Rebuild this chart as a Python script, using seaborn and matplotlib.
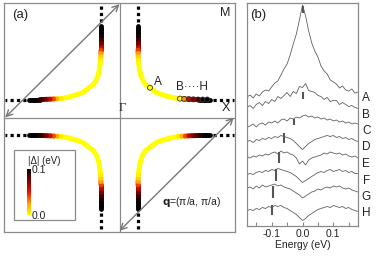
import numpy as np
import pandas as pd
import matplotlib
matplotlib.use('Agg')
import matplotlib.pyplot as plt
import seaborn as sns
from matplotlib.collections import LineCollection
from matplotlib.colors import LinearSegmentedColormap, Normalize
from matplotlib.cm import ScalarMappable
from matplotlib.patches import Rectangle

sns.set_theme(style='white')
plt.rcParams['font.family'] = ['Liberation Sans', 'DejaVu Sans']
plt.rcParams['axes.unicode_minus'] = False

# ---------------- panel (b) data: EDC spectra ----------------
energy = [-0.18, -0.17, -0.16, -0.15, -0.14, -0.13, -0.12, -0.11, -0.10, -0.09,
          -0.08, -0.07, -0.06, -0.05, -0.04, -0.03, -0.02, -0.01, 0.00, 0.01,
          0.02, 0.03, 0.04, 0.05, 0.06, 0.07, 0.08, 0.09, 0.10, 0.11,
          0.12, 0.13, 0.14, 0.15, 0.16, 0.17, 0.18]
cuts = ['A', 'B', 'C', 'D', 'E', 'F', 'G', 'H']
spec_A = [-5, -3, -6, -2, -4, 0, 2, 1, 5, 9, 11, 17, 23, 28, 37, 48, 58, 72, 87,
          76, 61, 49, 41, 35, 26, 21, 18, 12, 10, 8, 4, 6, 2, 1, 3, -1, 0]
spec_B = [1, 3, 0, 4, 6, 3, 7, 5, 9, 7, 12, 10, 13, 16, 12, 17, 15, 22, 21,
          25, 18, 17, 16, 13, 12, 9, 11, 7, 8, 8, 4, 6, 4, 2, 3, 1, 0]
spec_C = [-2, -1, 1, -2, 1, 2, 0, 3, 2, 4, 2, 5, 6, 4, 7, 6, 8, 7, 9,
          10, 8, 9, 7, 8, 6, 7, 5, 6, 4, 5, 3, 4, 2, 3, 1, 2, 1]
spec_D = [0, 1, -1, 2, 1, 3, 2, 4, 3, 5, 4, 6, 5, 4, 3, 1, -2, -5, -8,
          -5, -2, 0, 2, 3, 4, 5, 6, 5, 6, 4, 5, 3, 4, 2, 3, 1, 0]
spec_E = [1, 0, 2, 1, 3, 2, 4, 3, 5, 6, 4, 7, 5, 6, 4, 3, 0, -6, -3,
          -7, -2, 0, 1, 2, 3, 5, 4, 6, 5, 4, 5, 3, 4, 2, 1, 2, 0]
spec_F = [0, 1, 0, 2, 3, 2, 4, 3, 5, 4, 6, 5, 4, 3, 2, 0, -2, -5, -8,
          -6, -4, -2, 0, 2, 3, 2, 4, 5, 3, 4, 5, 3, 4, 2, 3, 1, 1]
spec_G = [3, 4, 2, 5, 3, 6, 4, 5, 6, 7, 5, 6, 4, 3, 2, 0, -2, -4, -7,
          -5, -3, -1, 0, 2, 1, 3, 4, 3, 5, 4, 5, 3, 2, 3, 1, 0, -1]
spec_H = [-3, -2, -3, -1, -2, 0, -1, 1, 0, 2, 1, 2, 0, -1, -3, -5, -7, -10, -13,
          -11, -8, -6, -4, -2, -1, 0, 1, 0, 2, 1, 0, 1, -1, 0, -2, -3, -4]
spectra = [spec_A, spec_B, spec_C, spec_D, spec_E, spec_F, spec_G, spec_H]
offsets = [134, 117.5, 101, 84.5, 68, 51.5, 35, 18.5]
gap_energy = [0.0, 0.0, -0.027, -0.06, -0.075, -0.087, -0.095, -0.1]
tick_lo = [79, 9.5, 0, -1, -5, -6, -7, -7.5]
tick_hi = [86, 16.5, 6, 9, 6, 6, 5, 2.5]

# ---------------- panel (a) data: Fermi arc (one quadrant) ----------------
arc_kx = [0.160, 0.160, 0.160, 0.160, 0.160, 0.160, 0.160, 0.160, 0.161, 0.162,
          0.164, 0.167, 0.171, 0.175, 0.182, 0.192, 0.205, 0.225, 0.264, 0.290,
          0.316, 0.345, 0.377, 0.410, 0.437, 0.470, 0.506, 0.540, 0.570, 0.600,
          0.630, 0.660, 0.690, 0.720, 0.750, 0.784]
arc_ky = [0.80, 0.77, 0.74, 0.71, 0.68, 0.65, 0.62, 0.59, 0.56, 0.53,
          0.50, 0.47, 0.44, 0.41, 0.38, 0.35, 0.32, 0.29, 0.26, 0.24,
          0.22, 0.207, 0.197, 0.187, 0.179, 0.172, 0.166, 0.163, 0.162, 0.160,
          0.159, 0.158, 0.157, 0.157, 0.157, 0.157]
arc_gap = [0.100, 0.100, 0.100, 0.097, 0.092, 0.083, 0.070, 0.052, 0.033, 0.016,
           0.006, 0.001, 0.0, 0.0, 0.0, 0.0, 0.0, 0.0, 0.0, 0.0,
           0.0, 0.0, 0.0, 0.0, 0.0, 0.0, 0.0, 0.010, 0.030, 0.050,
           0.065, 0.078, 0.088, 0.095, 0.100, 0.100]
dot_start_x = 0.81
dot_start_y = 0.83
pt_kx = [0.264, 0.524, 0.56, 0.60, 0.64, 0.68, 0.72, 0.76]
pt_ky = [0.26, 0.165, 0.162, 0.160, 0.158, 0.157, 0.157, 0.157]

cmap = LinearSegmentedColormap.from_list(
    'gap', ['#ffff00', '#ffa000', '#ee1000', '#800000', '#000000'])
norm = Normalize(0, 0.1)

fig = plt.figure(figsize=(3.76, 2.64), dpi=100)
axa = fig.add_axes([4 / 376, (264 - 232) / 264, 231 / 376, 229 / 264])
axb = fig.add_axes([247 / 376, (264 - 226) / 264, 111 / 376, 223 / 264])

frame_col = '#8a8a8a'
# ---- panel (a)
axa.set_xlim(-1, 1)
axa.set_ylim(-1, 1)
axa.set_xticks([])
axa.set_yticks([])
for s in axa.spines.values():
    s.set_color(frame_col)
    s.set_linewidth(0.9)
axa.axvline(0, color=frame_col, lw=0.9, zorder=1)
axa.axhline(0, color=frame_col, lw=0.9, zorder=1)

kx = np.array(arc_kx)
ky = np.array(arc_ky)
g = np.array(arc_gap)
for sx, sy in [(1, 1), (-1, 1), (-1, -1), (1, -1)]:
    pts = np.column_stack([sx * kx, sy * ky])
    segs = np.stack([pts[:-1], pts[1:]], axis=1)
    lc = LineCollection(segs, cmap=cmap, norm=norm, linewidths=3.5,
                        capstyle='round', zorder=3)
    lc.set_array((g[:-1] + g[1:]) / 2)
    axa.add_collection(lc)
    axa.plot([sx * kx[0], sx * kx[0]], [sy * dot_start_y, sy * 0.995],
             color='black', lw=2.3, ls=(0, (1, 1)), solid_capstyle='butt', zorder=3)
    axa.plot([sx * dot_start_x, sx * 0.995], [sy * ky[-1], sy * ky[-1]],
             color='black', lw=2.3, ls=(0, (1, 1)), solid_capstyle='butt', zorder=3)

arrow_kw = dict(arrowstyle='<->', color='#777777', lw=1.0, shrinkA=0, shrinkB=0,
                mutation_scale=11)
axa.annotate('', xy=(0.0, 0.99), xytext=(-0.99, 0.0), arrowprops=arrow_kw, zorder=4)
axa.annotate('', xy=(0.99, 0.0), xytext=(0.0, -0.99), arrowprops=arrow_kw, zorder=4)

pts_df = pd.DataFrame({'kx': pt_kx, 'ky': pt_ky, 'gap': np.abs(gap_energy)})
sns.scatterplot(data=pts_df, x='kx', y='ky', hue='gap', palette=cmap, hue_norm=norm,
                s=13, edgecolor='#333333', linewidth=0.6, legend=False, ax=axa, zorder=5)
axa.set_xlabel('')
axa.set_ylabel('')

tc = '#222222'
axa.text(-0.862, 0.895, '(a)', fontsize=9.5, ha='center', va='center', color=tc)
axa.text(0.913, 0.915, 'M', fontsize=9, ha='center', va='center', color=tc)
axa.text(0.922, 0.08, 'X', fontsize=9, ha='center', va='center', color=tc)
axa.text(0.025, 0.08, 'Γ', fontsize=9, ha='center', va='center', color=tc,
         family=['Liberation Serif', 'DejaVu Serif'])
axa.text(0.335, 0.31, 'A', fontsize=8.5, ha='center', va='center', color=tc)
axa.text(0.63, 0.265, 'B····H', fontsize=8.5, ha='center', va='center', color=tc)
axa.text(0.62, -0.74, r'$\mathbf{q}$=(π/a, π/a)', fontsize=7.5, ha='center',
         va='center', color=tc)

# colorbar legend box
axa.add_patch(Rectangle((10 / 231, 12 / 229), 61 / 231, 70 / 229, transform=axa.transAxes,
                        facecolor='white', edgecolor=frame_col, lw=0.9, zorder=6))
axa.text(40 / 231, 71 / 229, '|Δ| (eV)', transform=axa.transAxes, fontsize=7,
         ha='center', va='center', color=tc, zorder=7)
cax = fig.add_axes([27 / 376, (264 - 215) / 264, 4 / 376, 46 / 264], zorder=8)
cb = fig.colorbar(ScalarMappable(norm=norm, cmap=cmap), cax=cax, ticks=[0, 0.1])
cb.ax.set_yticklabels(['0.0', '0.1'])
cb.outline.set_visible(False)
cax.tick_params(length=0, labelsize=7.5, pad=0.5, colors=tc)

# ---- panel (b)
rows = []
for c, sp, off in zip(cuts, spectra, offsets):
    for e, v in zip(energy, sp):
        rows.append({'energy': e, 'intensity': v + off, 'cut': c})
df = pd.DataFrame(rows)
sns.lineplot(data=df, x='energy', y='intensity', hue='cut', palette=['#606060'] * 8,
             estimator=None, errorbar=None, lw=0.6, legend=False, ax=axb)
for e, lo, hi, off in zip(gap_energy, tick_lo, tick_hi, offsets):
    axb.plot([e, e], [off + lo, off + hi], color='#555555', lw=1.5, solid_capstyle='butt')
for c, off in zip(cuts, offsets):
    axb.text(1.075, off - 6, c, transform=axb.get_yaxis_transform(), fontsize=8.5,
             ha='center', va='center', color=tc, clip_on=False)

axb.set_xlim(-0.18, 0.18)
axb.set_ylim(0, 223)
axb.set_yticks([])
axb.set_xticks([-0.1, 0.0, 0.1])
axb.set_xticks([-0.15, -0.05, 0.05, 0.15], minor=True)
axb.set_xticklabels(['-0.1', '0.0', '0.1'])
axb.tick_params(axis='x', which='both', direction='in', length=3, width=0.8,
                color=frame_col, labelsize=7.5, pad=2, labelcolor=tc, bottom=True)
axb.set_xlabel('Energy (eV)', fontsize=7.5, labelpad=1, color=tc)
axb.set_ylabel('')
for s in axb.spines.values():
    s.set_color(frame_col)
    s.set_linewidth(0.9)
axb.text(0.1, 0.946, '(b)', transform=axb.transAxes, fontsize=9.5, ha='center',
         va='center', color=tc)

fig.savefig('out.png', dpi=100)
